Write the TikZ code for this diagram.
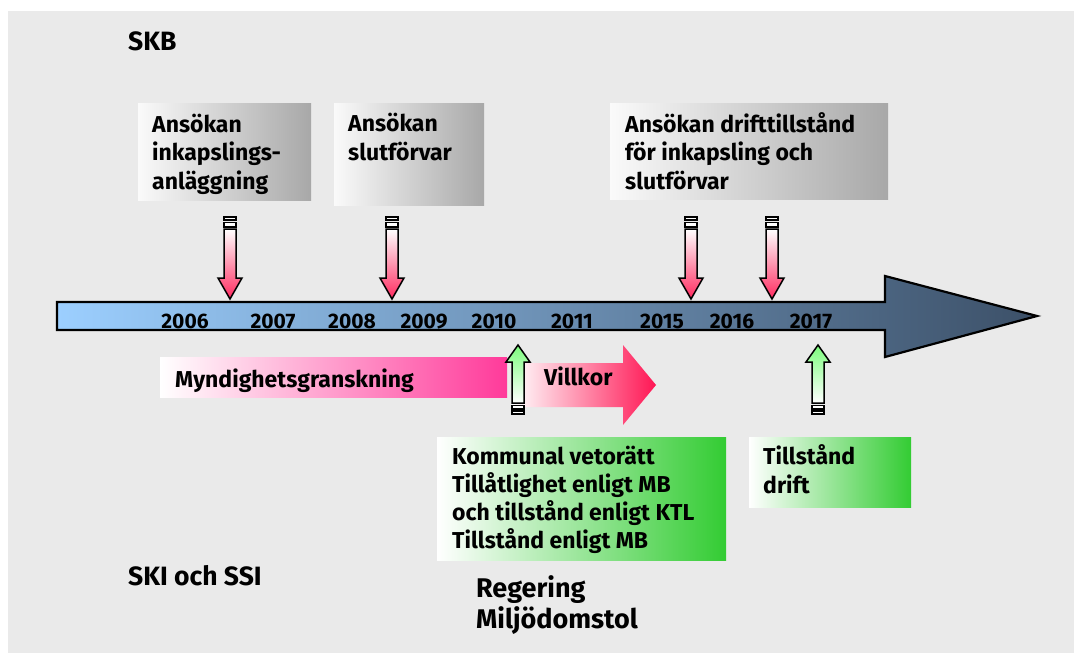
\documentclass[tikz,border=0pt]{standalone}
\usepackage{fontspec}
\setmainfont{Fira Sans}
\usepackage{xcolor}
\definecolor{paper}{HTML}{EAEAEA}
\definecolor{boxgray}{HTML}{A8A8A8}
\definecolor{boxlight}{HTML}{FAFAFA}
\definecolor{lineblue}{HTML}{9CCFFF}
\definecolor{linedark}{HTML}{3C5068}
\definecolor{signred}{HTML}{FF2A5F}
\definecolor{reviewpink}{HTML}{FF3A9A}
\definecolor{termred}{HTML}{FF1654}
\definecolor{permitgreen}{HTML}{33CC33}
\definecolor{arrowgreen}{HTML}{7CFC7C}
\usepackage{tikz}
\usetikzlibrary{calc,positioning}

\begin{document}
\begin{tikzpicture}[x=1pt, y=-1pt,
    boxtext/.style={anchor=base west, inner sep=0pt, align=left, font=\fontsize{23}{28.3}\selectfont\bfseries},
    headtext/.style={anchor=base west, inner sep=0pt, align=left, font=\fontsize{26.5}{31}\selectfont\bfseries},
    yeartext/.style={anchor=base, inner sep=0pt, font=\fontsize{21}{24}\selectfont\bfseries},
    outline/.style={draw=black, line width=1.5pt, line join=miter}]
    \useasboundingbox (0,0) rectangle (1074,653);
    \fill[paper] (8,11) rectangle (1074,653);

    % Application boxes (SKB)
    \shade[left color=boxlight, right color=boxgray] (138,103) rectangle (311,200);
    \shade[left color=boxlight, right color=boxgray] (334,103) rectangle (484,205);
    \shade[left color=boxlight, right color=boxgray] (610,103) rectangle (888,199);

    % Time line
    \shadedraw[left color=lineblue, right color=linedark, draw=black, line width=2.2pt, line join=miter]
        (57,302) -- (885,302) -- (885,276) -- (1037,316) -- (885,357) -- (885,330) -- (57,330) -- cycle;
    \foreach \yr/\yx in {2006/185, 2007/273, 2008/352, 2009/424, 2010/494, 2011/572, 2015/662, 2016/732, 2017/811}
        \node[yeartext] (y\yr) at (\yx,328) {\yr};

    % Application arrows down to the time line
    \foreach \ax in {230, 392, 691, 772} {
        \filldraw[fill=white, outline] (\ax-6,217) rectangle (\ax+6,220);
        \filldraw[fill=white, outline] (\ax-6,222.5) rectangle (\ax+6,227);
        \shadedraw[top color=white, bottom color=signred, outline]
            (\ax-6,229) -- (\ax+6,229) -- (\ax+6,278) -- (\ax+12,278) -- (\ax,299)
            -- (\ax-12,278) -- (\ax-6,278) -- cycle;
    }

    % Review and conditions
    \shade[left color=white, right color=reviewpink] (160,357) rectangle (507,397);
    \shade[left color=white, right color=termred]
        (512,363) -- (623,363) -- (623,345) -- (656,385) -- (623,425) -- (623,407) -- (512,407) -- cycle;

    % Decision arrows up to the time line
    \foreach \ax in {518, 818} {
        \shadedraw[top color=arrowgreen, bottom color=white, outline]
            (\ax,345) -- (\ax+12,362) -- (\ax+6,362) -- (\ax+6,403) -- (\ax-6,403)
            -- (\ax-6,362) -- (\ax-12,362) -- cycle;
        \filldraw[fill=white, outline] (\ax-6,405.5) rectangle (\ax+6,409);
        \filldraw[fill=white, outline] (\ax-6,411) rectangle (\ax+6,414);
    }

    % Decision boxes (SKI och SSI)
    \shade[left color=white, right color=permitgreen] (437,437) rectangle (726,560);
    \shade[left color=white, right color=permitgreen] (749,437) rectangle (911,507);

    % Texts (anchored at the baseline of their last line)
    \node[headtext] (skb) at (128,50) {SKB};
    \node[boxtext] (incap) at (152,189) {Ansökan\\inkapslings-\\anläggning};
    \node[boxtext] (final) at (348,160) {Ansökan\\slutförvar};
    \node[boxtext] (oper) at (625,189) {Ansökan drifttillstånd\\för inkapsling och\\slutförvar};
    \node[boxtext] (review) at (175,387) {Myndighetsgranskning};
    \node[boxtext] (terms) at (544,385) {Villkor};
    \node[boxtext, font=\fontsize{23}{27.7}\selectfont\bfseries] (veto) at (452,548) {Kommunal vetorätt\\Tillåtlighet enligt MB\\och tillstånd enligt KTL\\Tillstånd enligt MB};
    \node[boxtext] (drift) at (763,493) {Tillstånd\\drift};
    \node[headtext] (ski) at (128,585) {SKI och SSI};
    \node[headtext, font=\fontsize{27}{31}\selectfont\bfseries] (gov) at (476,628) {Regering\\Miljödomstol};
\end{tikzpicture}
\end{document}
